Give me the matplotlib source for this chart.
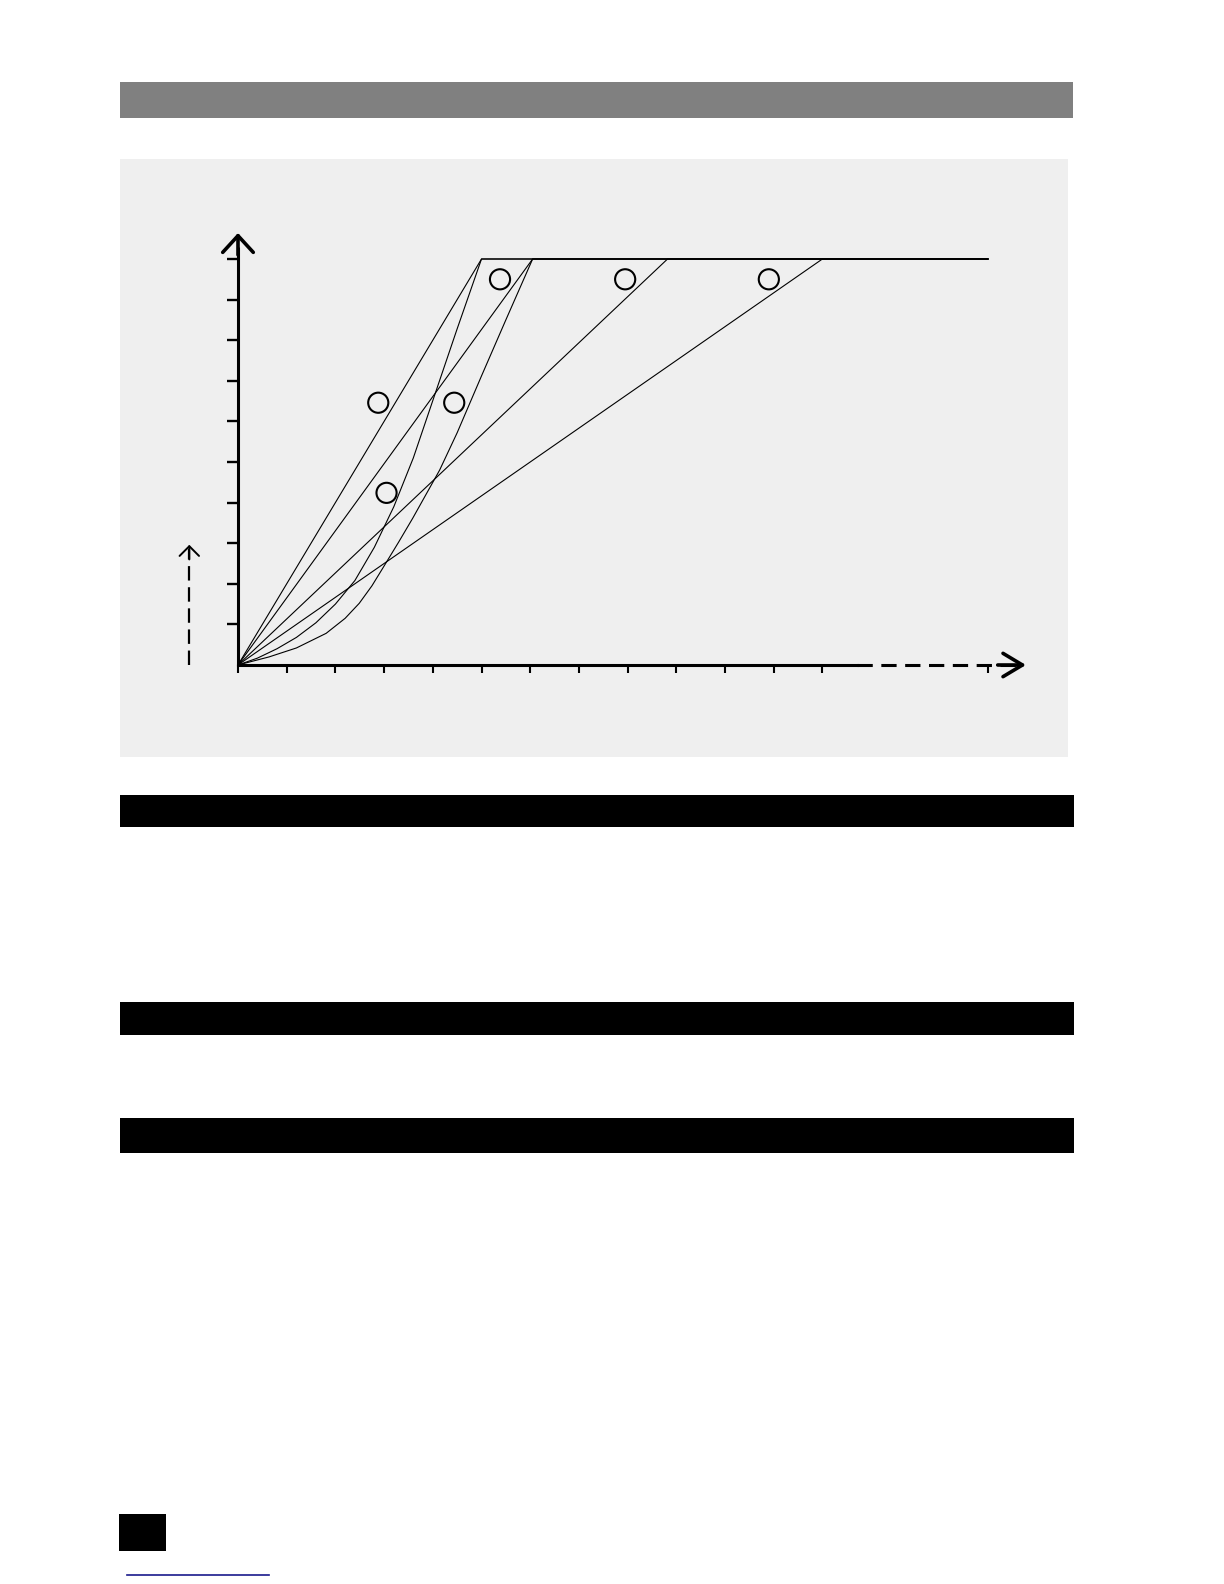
import matplotlib
matplotlib.use("Agg")
import matplotlib.pyplot as plt
from matplotlib.patches import Rectangle

# ---------------- data ----------------
plateau_level = 10.0
x_end = 15.4
ramp_ends = [5.0, 6.05, 8.82, 12.0]          # straight ramps: reach plateau at these x

s1_x = [0, 0.4, 0.8, 1.2, 1.6, 2.0, 2.4, 2.8, 3.2, 3.6, 4.05, 4.5, 5.0, 15.4]
s1_y = [0, 0.17, 0.40, 0.68, 1.04, 1.50, 2.08, 2.90, 3.90, 5.10, 6.69, 8.28, 10.0, 10.0]

s2_x = [0, 0.64, 1.2, 1.81, 2.2, 2.49, 2.75, 2.97, 3.3, 3.59, 4.14, 4.5, 5.0, 5.5, 6.05, 15.4]
s2_y = [0, 0.20, 0.42, 0.78, 1.15, 1.52, 1.95, 2.38, 3.03, 3.62, 4.80, 5.72, 7.12, 8.50, 10.0, 10.0]

circle_x = [2.88, 4.44, 3.05, 5.38, 7.95, 10.90]
circle_y = [6.46, 6.46, 4.24, 9.50, 9.50, 9.50]

x_ticks = [0, 1, 2, 3, 4, 5, 6, 7, 8, 9, 10, 11, 12, 15.4]
y_ticks = [1, 2, 3, 4, 5, 6, 7, 8, 9, 10]

# ---------------- layout ----------------
W, H = 1224, 1584
fig = plt.figure(figsize=(W / 100, H / 100), dpi=100)
fig.patch.set_facecolor("white")

page = fig.add_axes([0, 0, 1, 1])
page.set_xlim(0, W)
page.set_ylim(H, 0)
page.axis("off")

def box(x0, y0, x1, y1, color):
    page.add_patch(Rectangle((x0, y0), x1 - x0, y1 - y0, facecolor=color,
                             edgecolor="none"))

box(120, 82.3, 1073, 118.3, "#808080")      # grey header bar
box(120, 158.7, 1068, 756.7, "#efefef")     # chart panel
box(120, 795, 1074, 826.7, "black")
box(120, 1002, 1074, 1034.7, "black")
box(120, 1117.7, 1074, 1153.3, "black")
box(119, 1514, 165.7, 1550.7, "black")      # page-number block
page.plot([127, 269], [1575.3, 1575.3], color="#1a1a8c", lw=1.2)

# chart axes: origin at pixel (238, 665); 48.7 px per x unit, 40.6 px per y unit
ux, uy = 48.7, 40.6
ox, oy = 238.0, 665.0
xlim = (-2.5, 17.0)
ylim = (-1.5, 11.5)
left = ox + xlim[0] * ux
right = ox + xlim[1] * ux
bottom = oy - ylim[0] * uy
top = oy - ylim[1] * uy
ax = fig.add_axes([left / W, 1 - bottom / H, (right - left) / W, (bottom - top) / H])
ax.set_xlim(*xlim)
ax.set_ylim(*ylim)
ax.patch.set_alpha(0)

for s in ("top", "right"):
    ax.spines[s].set_visible(False)
ax.spines["left"].set_position(("data", 0))
ax.spines["bottom"].set_position(("data", 0))
ax.spines["left"].set_bounds(0, 10.3)
ax.spines["bottom"].set_bounds(0, 12.71)
ax.spines["left"].set_linewidth(2.2)
ax.spines["bottom"].set_linewidth(2.2)
ax.spines["left"].set_capstyle("butt")

ax.set_xticks(x_ticks)
ax.set_yticks(y_ticks)
ax.set_xticklabels([])
ax.set_yticklabels([])
ax.tick_params(axis="x", direction="out", length=6, width=1.5, color="black")
ax.tick_params(axis="y", direction="out", length=8, width=1.7, color="black")

# dashed continuation of x axis + arrowhead
ax.plot([12.71, 16.05], [0, 0], color="black", lw=2.2, ls=(0, (5, 2.8)),
        solid_capstyle="butt")
ax.annotate("", xy=(16.18, 0), xytext=(15.6, 0),
            arrowprops=dict(arrowstyle="->,head_length=0.7,head_width=0.42",
                            lw=2.6, color="black", shrinkA=0, shrinkB=0,
                            mutation_scale=20))
# y-axis arrowhead
ax.annotate("", xy=(0, 10.64), xytext=(0, 10.1),
            arrowprops=dict(arrowstyle="->,head_length=0.6,head_width=0.55",
                            lw=2.6, color="black", shrinkA=0, shrinkB=0,
                            mutation_scale=20))

# small dashed arrow to the left of the y axis
ax.plot([-1.0, -1.0], [0, 2.85], color="black", lw=1.6, ls=(0, (6.5, 3)))
ax.annotate("", xy=(-1.0, 2.96), xytext=(-1.0, 2.6),
            arrowprops=dict(arrowstyle="->,head_length=0.35,head_width=0.35",
                            lw=1.4, color="black", shrinkA=0, shrinkB=0,
                            mutation_scale=20))

# ramps
for xe in ramp_ends:
    ax.plot([0, xe, x_end], [0, plateau_level, plateau_level], color="black", lw=0.8)
ax.plot(s1_x, s1_y, color="black", lw=0.8, solid_joinstyle="round")
ax.plot(s2_x, s2_y, color="black", lw=0.8, solid_joinstyle="round")

# label circles
ax.scatter(circle_x, circle_y, s=14.5 ** 2, facecolors="none", edgecolors="black",
           linewidths=1.5, zorder=5)

fig.savefig("out.png", dpi=100, facecolor="white")
